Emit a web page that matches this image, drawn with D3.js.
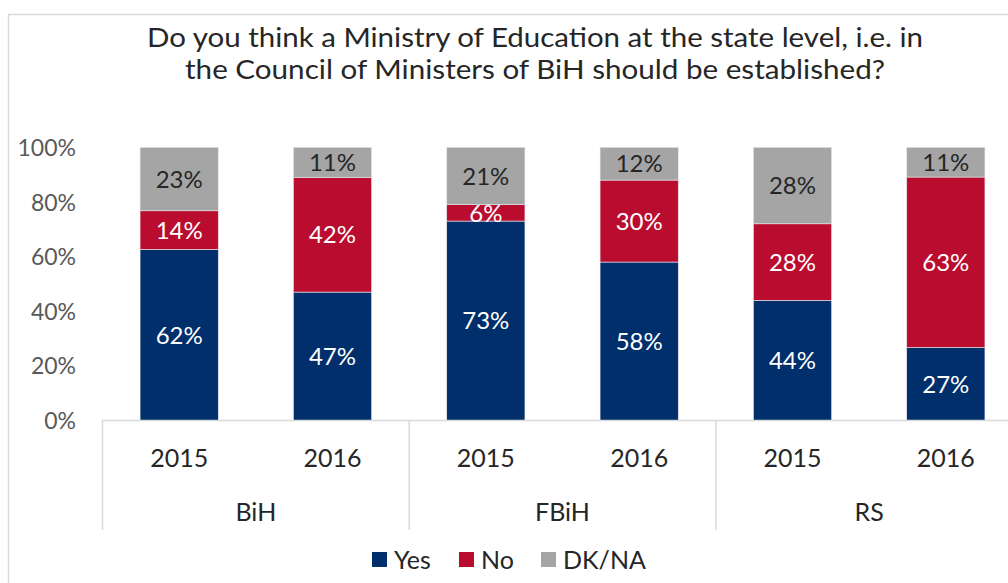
<!DOCTYPE html>
<html><head><meta charset="utf-8">
<script src="https://cdn.jsdelivr.net/npm/d3@7/dist/d3.min.js"></script>
<style>body{margin:0;background:#fff}svg{display:block}text{font-family:Lato,"Open Sans",sans-serif}</style>
</head><body><svg id="c" width="1008" height="583"></svg>
<script>
const titleLines = ["Do you think a Ministry of Education at the state level, i.e. in","the Council of Ministers of BiH should be established?"];
const groups = ["BiH","FBiH","RS"];
const years = ["2015","2016"];
const seriesNames = ["Yes","No","DK/NA"];
const yesVals = [62,47,73,58,44,27];
const noVals  = [14,42,6,30,28,63];
const dkVals  = [23,11,21,12,28,11];
const yTicks = [0,0.2,0.4,0.6,0.8,1];
const colors = ["#002F6C","#BA0C2F","#A5A5A5"];
const labelColors = ["#ffffff","#ffffff","#262626"];

const svg = d3.select("#c");
// frame
svg.append("line").attr("x1",8.5).attr("x2",8.5).attr("y1",14).attr("y2",583).attr("stroke","#d9d9d9").attr("stroke-width",1.5);
svg.append("line").attr("x1",8).attr("x2",1008).attr("y1",14.5).attr("y2",14.5).attr("stroke","#d9d9d9").attr("stroke-width",1.5);

// title
const tw = [776, 700];
titleLines.forEach((t,i)=>{
  svg.append("text").attr("x",535).attr("y",47+i*32).attr("text-anchor","middle")
    .attr("font-size",26.5).attr("fill","#262626")
    .attr("textLength",tw[i]).attr("lengthAdjust","spacingAndGlyphs").text(t);
});

const cats = [];
groups.forEach(g=>years.forEach(y=>cats.push(g+"|"+y)));
const x = d3.scaleBand().domain(cats).range([102.5,1022.5]).paddingInner(0.49).paddingOuter(0.245);
const y = d3.scaleLinear().domain([0,1]).range([420.5,147.3]);

const rows = cats.map((c,i)=>{
  const vals=[yesVals[i],noVals[i],dkVals[i]];
  const tot=d3.sum(vals);
  const r={cat:c}; seriesNames.forEach((s,j)=>r[s]=vals[j]/tot); r.raw=vals; return r;
});
const stack = d3.stack().keys(seriesNames)(rows);

// y axis
const yAxis = d3.axisLeft(y).tickValues(yTicks).tickFormat(d3.format(".0%")).tickSize(0).tickPadding(0);
const ya = svg.append("g").attr("transform","translate(76,0)").call(yAxis);
ya.select(".domain").remove();
ya.selectAll("text").attr("font-size",23).attr("fill","#595959").attr("font-family","Lato, sans-serif").attr("dy","0.35em");

// bars
const barG = svg.append("g");
const labG = svg.append("g");
stack.forEach((s,si)=>{
  barG.append("g").selectAll("rect").data(s).join("rect")
    .attr("x",d=>x(d.data.cat)).attr("width",x.bandwidth())
    .attr("y",d=>y(d[1])).attr("height",d=>y(d[0])-y(d[1]))
    .attr("fill",colors[si]).attr("stroke","#e8e8e8").attr("stroke-width",0.6);
  labG.append("g").selectAll("text").data(s).join("text")
    .attr("x",d=>x(d.data.cat)+x.bandwidth()/2)
    .attr("y",d=>(y(d[0])+y(d[1]))/2).attr("dy","0.36em")
    .attr("text-anchor","middle").attr("font-size",24).attr("fill",labelColors[si])
    .text(d=>d.data.raw[si]+"%");
});

// x axis
const xa = svg.append("g");
xa.append("line").attr("x1",102.5).attr("x2",1008).attr("y1",420.5).attr("y2",420.5).attr("stroke","#d9d9d9").attr("stroke-width",1.5);
const sepX = [0,2,4].map(i=>x.step()*i + 102.5);
sepX.forEach(sx=>xa.append("line").attr("x1",sx).attr("x2",sx).attr("y1",420).attr("y2",530).attr("stroke","#d9d9d9").attr("stroke-width",1.5));
const xAxis = d3.axisBottom(x).tickFormat(d=>d.split("|")[1]).tickSize(0).tickPadding(0);
const xg = svg.append("g").attr("transform","translate(0,458)").call(xAxis);
xg.select(".domain").remove();
xg.selectAll("text").attr("font-size",25).attr("fill","#262626").attr("dy","0.36em").attr("y",0).attr("font-family","Lato, sans-serif");
groups.forEach((g,i)=>{
  const cx = (x(g+"|2015")+x(g+"|2016")+x.bandwidth())/2;
  svg.append("text").attr("x",cx).attr("y",512).attr("dy","0.36em").attr("text-anchor","middle")
    .attr("font-size",25).attr("fill","#262626").text(g);
});

// legend
const legX = [372,459,541];
seriesNames.forEach((s,i)=>{
  svg.append("rect").attr("x",legX[i]).attr("y",552).attr("width",15).attr("height",15).attr("fill",colors[i]);
  svg.append("text").attr("x",legX[i]+22).attr("y",560).attr("dy","0.36em").attr("font-size",25).attr("fill","#262626").text(s);
});
</script></body></html>
